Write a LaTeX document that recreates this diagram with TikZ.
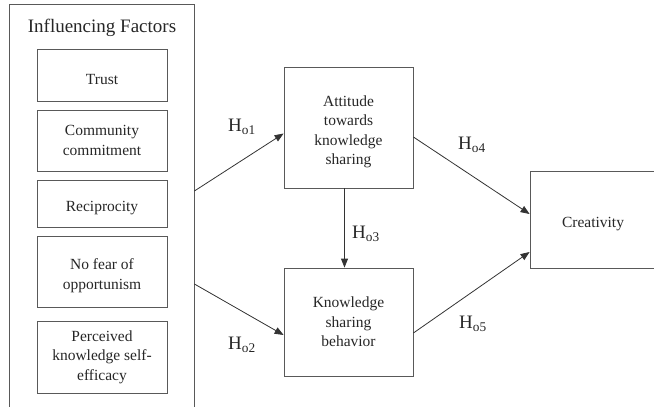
\documentclass[tikz,border=0pt]{standalone}
\usepackage{fontspec}
\setmainfont{Liberation Serif}
\newfontfamily\boxfont{Liberation Serif}
\usetikzlibrary{arrows.meta,calc}

\begin{document}
\begin{tikzpicture}[x=1pt,y=-1pt,>={Triangle[length=9pt,width=7pt]},
  box/.style={draw=black!65,line width=0.8pt,align=center,inner sep=0pt,
    font=\boxfont\fontsize{15.5}{19.5}\selectfont,text=black!85},
  hyp/.style={font=\boxfont\fontsize{19}{22}\selectfont,text=black!85},
  link/.style={->,draw=black!80,line width=0.8pt}]
  \useasboundingbox (0,0) rectangle (654,407);

  % Group of influencing factors (runs past the bottom edge)
  \node[draw=black!65,line width=0.8pt,minimum width=185pt,minimum height=420pt] (group) at (101.5,214) {};
  \node[hyp] (title) at (102,28) {Influencing Factors};

  % Factor boxes
  \node[box,minimum width=130pt,minimum height=52pt] (trust) at (102,75) {\mbox{}\\Trust};
  \node[box,minimum width=130pt,minimum height=61pt] (commit) at (102,140.5) {Community\\commitment};
  \node[box,minimum width=130pt,minimum height=47pt] (recip) at (102,203.5) {\mbox{}\\Reciprocity};
  \node[box,minimum width=130pt,minimum height=71pt] (nofear) at (102,271.5) {\mbox{}\\No fear of\\opportunism};
  \node[box,minimum width=130pt,minimum height=72pt] (efficacy) at (102,357) {Perceived\\knowledge self-\\efficacy};

  % Mediators and outcome
  \node[box,minimum width=129pt,minimum height=121pt] (att) at (348.5,127.5) {\mbox{}\\Attitude\\towards\\knowledge\\sharing};
  \node[box,minimum width=129pt,minimum height=108pt] (ksb) at (348.5,322) {Knowledge\\sharing\\behavior};
  \node[box,minimum width=126pt,minimum height=97pt] (creat) at (593,219.5) {\mbox{}\\Creativity};

  % Paths
  \coordinate (out1) at (group.east |- 0,191);
  \coordinate (out2) at (group.east |- 0,284);
  \draw[link] (out1) -- ([yshift=-6pt]att.west);
  \draw[link] (out2) -- ([yshift=-13pt]ksb.west);
  \draw[link] ([xshift=-4pt]att.south) -- ([xshift=-4pt]ksb.north);
  \draw[link] ([yshift=-9.5pt]att.east) -- ([yshift=5.5pt]creat.west);
  \draw[link] ([yshift=-11pt]ksb.east) -- ([yshift=-32.5pt]creat.west);

  % Hypothesis labels
  \node[hyp] (h1) at (242,127) {H\textsubscript{o1}};
  \node[hyp] (h2) at (242,345) {H\textsubscript{o2}};
  \node[hyp] (h3) at (366,234) {H\textsubscript{o3}};
  \node[hyp] (h4) at (472,145) {H\textsubscript{o4}};
  \node[hyp] (h5) at (473,324) {H\textsubscript{o5}};
\end{tikzpicture}
\end{document}
